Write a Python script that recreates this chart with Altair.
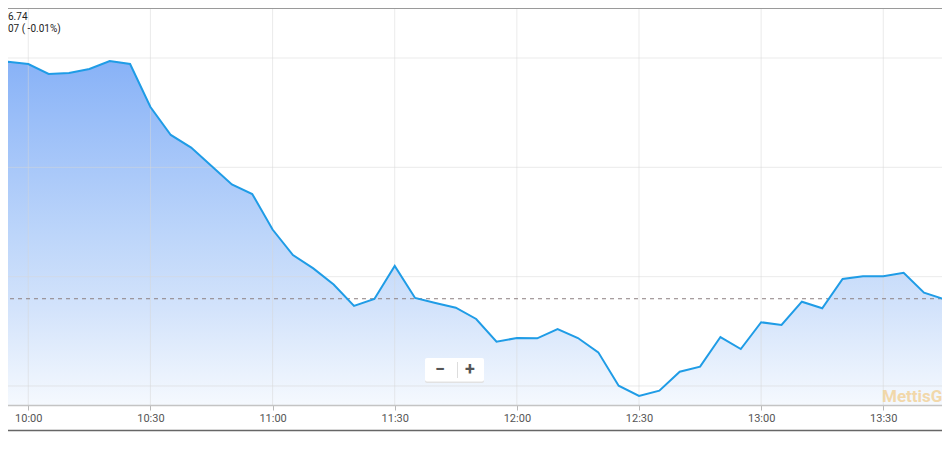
import altair as alt
import pandas as pd

# ---- data (5-minute intraday index values) ----
times = ["09:50", "09:55", "10:00", "10:05", "10:10", "10:15", "10:20", "10:25",
         "10:30", "10:35", "10:40", "10:45", "10:50", "10:55", "11:00", "11:05",
         "11:10", "11:15", "11:20", "11:25", "11:30", "11:35", "11:40", "11:45",
         "11:50", "11:55", "12:00", "12:05", "12:10", "12:15", "12:20", "12:25",
         "12:30", "12:35", "12:40", "12:45", "12:50", "12:55", "13:00", "13:05",
         "13:10", "13:15", "13:20", "13:25", "13:30", "13:35", "13:40", "13:45",
         "13:50"]
values = [45079.9, 45096.6, 45094.5, 45085.4, 45086.3, 45089.9, 45097.3, 45094.5,
          45055.2, 45029.6, 45018.1, 45001.2, 44984.3, 44975.6, 44943.1, 44919.8,
          44907.6, 44892.8, 44873.2, 44879.6, 44909.8, 44880.5, 44875.9, 44871.6,
          44861.3, 44840.5, 44843.9, 44843.6, 44852.1, 44843.9, 44830.8, 44800.3,
          44790.9, 44795.7, 44813.1, 44817.7, 44844.8, 44833.8, 44858.3, 44855.8,
          44877.1, 44871.1, 44897.9, 44900.3, 44900.3, 44903.6, 44885.4, 44879.3,
          44876.74]
prev_close = [44879.81]
y_domain = [44782.62, 45153.05]
grid_values = [44800, 44900, 45000, 45100]
tick_times = ["10:00", "10:30", "11:00", "11:30", "12:00", "12:30", "13:00", "13:30"]
header_lines = ["6.74", "07 ( -0.01%)"]
watermark = "MettisGlobal"
zoom_buttons = ["\u2212", "+"]

DAY = "2024-01-02T"
df = pd.DataFrame({"time": [DAY + t + ":00" for t in times], "value": values})
df["base"] = y_domain[0]
ticks_df = pd.DataFrame({"time": [DAY + t + ":00" for t in tick_times]})
grid_df = pd.DataFrame({"value": grid_values})
prev_df = pd.DataFrame({"value": prev_close})
one = pd.DataFrame({"k": [0]})


def dt(h, m, s=0):
    return alt.DateTime(year=2024, month=1, date=2, hours=h, minutes=m, seconds=s)


xscale = alt.Scale(domain=[dt(9, 53, 3), dt(13, 46, 23)], nice=False)
yscale = alt.Scale(domain=y_domain, nice=False, zero=False)

xaxis = alt.Axis(
    values=[dt(int(t[:2]), int(t[3:])) for t in tick_times],
    format="%H:%M", title=None, grid=False,
    domainColor="#c4c4c4", domainWidth=1.5,
    tickColor="#b8b8b8", tickSize=5, tickWidth=1,
    labelFont="Roboto", labelFontSize=11, labelColor="#555555",
    labelPadding=2, labelFlush=False, zindex=1,
)

gradient = alt.Gradient(
    gradient="linear",
    stops=[
        alt.GradientStop(color="#88b2f7", offset=0),
        alt.GradientStop(color="#bcd5fa", offset=0.5),
        alt.GradientStop(color="#d3e3fb", offset=0.72),
        alt.GradientStop(color="#f5f9fe", offset=1),
    ],
    x1=1, x2=1, y1=0, y2=1,
)

X = alt.X("time:T", scale=xscale, axis=xaxis)
Y = alt.Y("value:Q", scale=yscale, axis=None)

area = alt.Chart(df).mark_area(color=gradient).encode(
    x=X, y=Y, y2=alt.Y2("base:Q"),
)

vgrid = alt.Chart(ticks_df).mark_rule(color="#d8d8d8", strokeWidth=1, opacity=0.5).encode(x=X)
hgrid = alt.Chart(grid_df).mark_rule(color="#d8d8d8", strokeWidth=1, opacity=0.5).encode(y=Y)

prev = alt.Chart(prev_df).mark_rule(color="#8c7f80", strokeWidth=1, strokeDash=[4, 4]).encode(y=Y)

line = alt.Chart(df).mark_line(color="#1f9ce6", strokeWidth=2).encode(x=X, y=Y)

top_border = alt.Chart(one).mark_rule(color="#9a9a9a", strokeWidth=1).encode(
    x=alt.value(0), x2=alt.value(950), y=alt.value(8.5)
)
bottom_border = alt.Chart(one).mark_rule(color="#666666", strokeWidth=1.5).encode(
    x=alt.value(0), x2=alt.value(950), y=alt.value(430.5)
)

header_layers = []
for i, txt in enumerate(header_lines):
    header_layers.append(
        alt.Chart(one).mark_text(
            align="left", baseline="middle", font="Roboto", fontSize=10,
            color="#222222", text=txt
        ).encode(x=alt.value(8), y=alt.value(17 + 12 * i))
    )

wm = alt.Chart(one).mark_text(
    align="left", baseline="alphabetic", font="Roboto", fontSize=17,
    fontWeight="bold", color="#f2d39c", opacity=0.85, text=watermark
).encode(x=alt.value(882), y=alt.value(402))

# zoom control widget
zc_shadow = alt.Chart(one).mark_rect(color="#e2e2e2", cornerRadius=2).encode(
    x=alt.value(425), x2=alt.value(484), y=alt.value(359), y2=alt.value(383)
)
zc_box = alt.Chart(one).mark_rect(color="#ffffff", cornerRadius=2).encode(
    x=alt.value(425), x2=alt.value(484), y=alt.value(358), y2=alt.value(381.5)
)
zc_sep = alt.Chart(one).mark_rule(color="#dddddd", strokeWidth=1).encode(
    x=alt.value(457.5), y=alt.value(362), y2=alt.value(378)
)
zc_layers = []
for i, txt in enumerate(zoom_buttons):
    zc_layers.append(
        alt.Chart(one).mark_text(
            align="center", baseline="middle", font="Roboto", fontSize=18,
            fontWeight="bold", color="#555555", text=txt
        ).encode(x=alt.value(440 + 30 * i), y=alt.value(370))
    )

chart = alt.layer(
    area, vgrid, hgrid, prev, line, top_border, bottom_border, *header_layers, wm,
    zc_shadow, zc_box, zc_sep, *zc_layers
).properties(
    width=950, height=405,
    autosize=alt.AutoSizeParams(type="none"),
    padding={"left": -8, "top": -8, "right": -8, "bottom": 31},
).configure_view(strokeWidth=0)

chart.save("out.html", embed_options={"renderer": "svg", "actions": False})
